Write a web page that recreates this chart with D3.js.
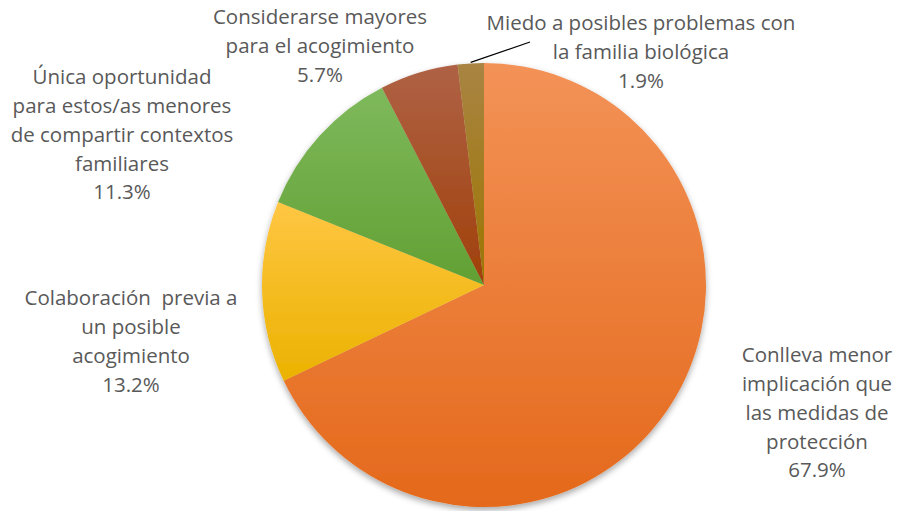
<!DOCTYPE html>
<html>
<head>
<meta charset="utf-8">
<script src="https://cdn.jsdelivr.net/npm/d3@7/dist/d3.min.js"></script>
<style>
  html, body { margin: 0; padding: 0; background: #fff; }
  svg { display: block; }
</style>
</head>
<body>
<svg id="chart" width="899" height="511"></svg>
<script>
// Motivos, en orden de dibujo (empezando a las 12 y en sentido horario)
const categories = [
  "Conlleva menor implicación que las medidas de protección",
  "Colaboración previa a un posible acogimiento",
  "Única oportunidad para estos/as menores de compartir contextos familiares",
  "Considerarse mayores para el acogimiento",
  "Miedo a posibles problemas con la familia biológica"
];
const values = [67.9, 13.2, 11.3, 5.7, 1.9];
const labelLines = [
  ["Conlleva menor", "implicación que", "las medidas de", "protección"],
  ["Colaboración  previa a", "un posible", "acogimiento"],
  ["Única oportunidad", "para estos/as menores", "de compartir contextos", "familiares"],
  ["Considerarse mayores", "para el acogimiento"],
  ["Miedo a posibles problemas con", "la familia biológica"]
];
const percentLabels = values.map(v => v.toFixed(1) + "%");

// Degradado vertical de cada porción: [arriba, abajo]
const gradients = [
  ["#F39257", "#E4691B"],
  ["#FFC643", "#EBB200"],
  ["#7EB95C", "#62A033"],
  ["#AF6245", "#A0400A"],
  ["#A98443", "#9D7600"]
];

// Posición del bloque de texto de cada etiqueta (centro, primera línea)
const labelPos = [
  { x: 817, y: 355 },
  { x: 131, y: 298 },
  { x: 122, y: 77 },
  { x: 320, y: 17 },
  { x: 641, y: 23 }
];
const lineHeight = 28.8;

const svg = d3.select("#chart");
const cx = 484, cy = 285, radius = 222;

const defs = svg.append("defs");
gradients.forEach((g, i) => {
  const lg = defs.append("linearGradient")
    .attr("id", "grad" + i)
    .attr("x1", 0).attr("y1", 0).attr("x2", 0).attr("y2", 1);
  lg.append("stop").attr("offset", "0%").attr("stop-color", g[0]);
  lg.append("stop").attr("offset", "100%").attr("stop-color", g[1]);
});
const shadow = defs.append("filter").attr("id", "shadow")
  .attr("x", "-10%").attr("y", "-10%").attr("width", "120%").attr("height", "120%");
shadow.append("feDropShadow")
  .attr("dx", 0).attr("dy", 3).attr("stdDeviation", 3)
  .attr("flood-color", "#000").attr("flood-opacity", 0.35);

const pie = d3.pie().sort(null).value(d => d)(values);
const arc = d3.arc().innerRadius(0).outerRadius(radius);

const g = svg.append("g")
  .attr("transform", `translate(${cx},${cy})`)
  .attr("filter", "url(#shadow)");

g.selectAll("path")
  .data(pie)
  .join("path")
  .attr("d", arc)
  .attr("fill", (d, i) => `url(#grad${i})`);

// Línea guía de la porción más pequeña
const small = pie[4];
const mid = (small.startAngle + small.endAngle) / 2;
svg.append("line")
  .attr("x1", cx + Math.sin(mid) * (radius + 1))
  .attr("y1", cy - Math.cos(mid) * (radius + 1))
  .attr("x2", 530).attr("y2", 42)
  .attr("stroke", "#000").attr("stroke-width", 1.2);

// Etiquetas
labelLines.forEach((lines, i) => {
  const t = svg.append("text")
    .attr("x", labelPos[i].x)
    .attr("y", labelPos[i].y)
    .attr("text-anchor", "middle")
    .attr("font-family", "'Open Sans', Lato, sans-serif")
    .attr("font-size", 20.5)
    .attr("fill", "#595959");
  lines.concat([percentLabels[i]]).forEach((s, j) => {
    t.append("tspan")
      .attr("x", labelPos[i].x)
      .attr("y", labelPos[i].y + j * lineHeight)
      .attr("dy", "0.35em")
      .attr("xml:space", "preserve")
      .text(s);
  });
});
</script>
</body>
</html>
